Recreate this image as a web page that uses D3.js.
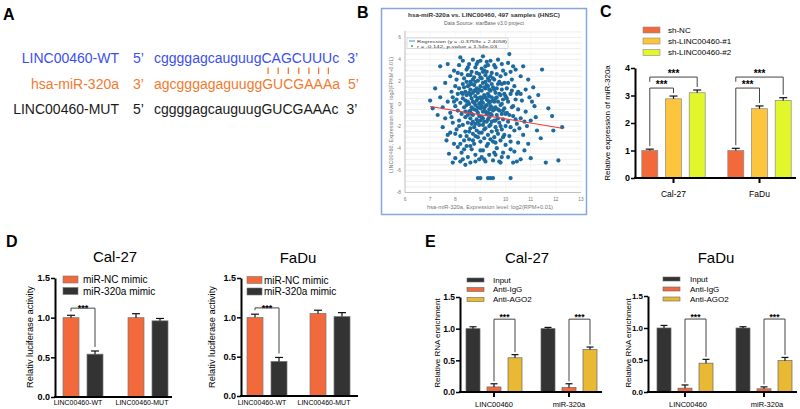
<!DOCTYPE html>
<html><head><meta charset="utf-8">
<script src="https://cdn.jsdelivr.net/npm/d3@7"></script>
<style>
body{margin:0;background:#fff}
svg{display:block}
text{font-family:"Liberation Sans",Arial,sans-serif}
</style>
</head><body>
<svg id="c" width="800" height="409"></svg>
<script>
// ---------------- DATA ----------------
// Panel A
const seqLabels = ["LINC00460-WT", "hsa-miR-320a", "LINC00460-MUT"];
const seqEnds5 = ["5’", "3’", "5’"];
const seqs = ["cggggagcauguugCAGCUUUc", "agcgggagaguuggGUCGAAAa", "cggggagcauguugGUCGAAAc"];
const seqEnds3 = ["3’", "5’", "3’"];
const pairStart = 14, pairCount = 7;

// Panel B (x = hsa-miR-320a log2(RPM+0.01), y = LINC00460 log2(FPKM+0.01)), read approx. from picture
const bTitle = "hsa-miR-320a vs. LINC00460, 497 samples (HNSC)";
const bSubtitle = "Data Source: starBase v3.0 project";
const bXLabel = "hsa-miR-320a, Expression level: log2(RPM+0.01)";
const bYLabel = "LINC00460, Expression level: log2(FPKM+0.01)";
const bLegend = ["Regression (y = -0.3759x + 2.4058)", "r = -0.142, p-value = 1.54e-03"];
const bSlope = -0.3759, bIntercept = 2.4058, bLineX = [7.0, 12.25];
const bXTicks = [6, 7, 8, 9, 10, 11, 12, 13];
const bYTicks = [-8, -6, -4, -2, 0, 2, 4, 6];
const bPoints = [
[7.0,0.3],[7.1,-0.4],[7.2,1.4],[7.3,-1.0],[7.4,3.4],[7.4,0.6],[7.5,-2.1],[7.5,-0.3],
[7.6,1.9],[7.6,-1.3],[7.7,0.2],[7.7,-2.8],[7.75,-4.5],[7.8,2.5],[7.8,-0.8],[7.8,-2.6],[7.85,1.1],[7.9,-5.3],[7.9,0.6],[7.9,-1.7],[7.95,3.0],[7.95,-3.6],[8.0,-0.2],[8.0,1.6],[8.0,-4.9],[7.65,-3.3],[7.7,3.6],[7.85,-1.2],
[8.05,2.2],[8.05,-2.3],[8.1,0.9],[8.1,-0.6],[8.1,-3.9],[8.15,3.5],[8.15,1.4],[8.15,-1.5],[8.2,-5.2],[8.2,0.1],[8.2,-2.9],[8.25,2.7],[8.25,-0.9],[8.25,-4.4],[8.3,1.8],[8.3,-1.9],[8.3,0.5],[8.3,3.9],[8.35,-3.3],[8.35,-0.3],[8.35,2.3],[8.4,1.1],[8.4,-2.5],[8.4,-5.5],[8.4,-1.2],[8.45,0.8],[8.45,3.1],[8.45,-3.8],[8.45,-0.1],[8.5,1.6],[8.5,-1.7],[8.5,-4.8],[8.5,2.6],[8.2,4.2],[8.35,-4.1],[8.05,0.4],[8.15,-2.0],[8.3,-5.0],[8.45,-2.9],[8.4,0.3],
[8.55,0.0],[8.55,-0.7],[8.55,3.6],[8.55,-3.2],[8.6,1.3],[8.6,2.0],[8.6,-1.3],[8.6,-2.2],[8.6,-5.3],[8.65,0.5],[8.65,-0.3],[8.65,2.9],[8.65,-4.1],[8.7,1.0],[8.7,-1.0],[8.7,-2.7],[8.7,4.0],[8.7,0.2],[8.75,1.7],[8.75,-0.5],[8.75,-3.6],[8.75,2.4],[8.8,-1.8],[8.8,0.7],[8.8,-0.1],[8.8,3.3],[8.8,-4.6],[8.85,1.4],[8.85,-1.4],[8.85,-2.4],[8.85,0.3],[8.9,2.1],[8.9,-0.8],[8.9,-6.7],[8.9,-3.0],[8.9,1.0],[8.95,-5.0],[8.95,0.0],[8.95,2.7],[8.95,-1.9],[9.0,-6.7],[9.0,0.6],[9.0,-0.4],[9.0,1.6],[9.0,-3.4],[9.0,3.9],[8.6,-0.6],[8.7,-1.6],[8.8,1.2],[8.9,-0.3],[8.65,1.8],[8.75,-2.1],[8.85,2.8],[8.95,-1.1],[8.55,1.0],
[9.05,1.2],[9.05,-1.2],[9.05,-2.6],[9.05,2.3],[9.1,0.1],[9.1,-0.7],[9.1,4.3],[9.1,-4.2],[9.1,1.9],[9.15,-1.6],[9.15,0.8],[9.15,3.0],[9.15,-3.1],[9.2,-0.2],[9.2,1.4],[9.2,-2.2],[9.2,-5.2],[9.2,2.6],[9.25,0.4],[9.25,-0.9],[9.25,-3.8],[9.25,1.7],[9.3,-6.7],[9.3,-1.4],[9.3,0.9],[9.3,3.5],[9.3,-2.8],[9.35,0.1],[9.35,-0.5],[9.35,2.1],[9.35,-4.6],[9.4,-6.7],[9.4,1.2],[9.4,-1.9],[9.4,-0.2],[9.4,3.9],[9.45,0.6],[9.45,-2.5],[9.45,-1.0],[9.45,2.8],[9.5,-6.7],[9.5,-0.6],[9.5,1.5],[9.5,-3.4],[9.5,-5.1],[9.05,0.4],[9.1,-1.9],[9.2,0.6],[9.25,-1.6],[9.3,0.3],[9.35,1.3],[9.4,-3.2],[9.45,-0.3],[9.15,-0.4],[9.2,3.4],[9.3,2.3],[9.05,-4.8],[9.4,0.2],[9.1,2.9],[9.35,-1.2],
[9.55,0.2],[9.55,2.2],[9.55,-1.5],[9.6,-2.1],[9.6,1.0],[9.6,-0.3],[9.6,3.3],[9.65,-4.0],[9.65,0.6],[9.65,-1.0],[9.7,1.8],[9.7,-2.7],[9.7,-0.5],[9.7,4.0],[9.75,-5.2],[9.75,0.9],[9.75,-1.7],[9.8,2.5],[9.8,-0.1],[9.8,-3.3],[9.8,-5.3],[9.85,1.3],[9.85,-0.9],[9.85,-2.3],[9.9,0.4],[9.9,3.0],[9.9,-1.4],[9.9,-4.4],[9.95,-0.4],[9.95,1.9],[10.0,-2.0],[10.0,0.7],[10.0,-3.7],[10.0,2.7],[9.55,-3.0],[9.65,2.7],[9.75,-0.6],[9.85,0.0],[9.95,-2.8],[9.6,-4.6],
[10.05,-0.8],[10.05,1.4],[10.1,3.7],[10.1,-1.6],[10.1,0.2],[10.15,4.5],[10.15,-2.9],[10.2,-6.7],[10.2,0.9],[10.2,-4.1],[10.25,-0.3],[10.25,2.2],[10.3,-1.1],[10.3,-5.3],[10.35,1.6],[10.35,-2.4],[10.4,0.4],[10.4,3.1],[10.45,-5.2],[10.45,-1.8],[10.5,-0.5],[10.5,1.1],[10.5,-3.5],[10.3,3.4],[10.1,-4.8],
[10.6,2.5],[10.6,-1.3],[10.65,0.3],[10.7,-2.8],[10.7,3.4],[10.75,-4.2],[10.8,1.3],[10.8,-0.7],[10.85,-2.0],[10.9,2.2],[10.9,-3.6],[10.95,0.6],[11.0,-1.5],[10.6,-5.0],[11.0,-4.9],
[11.1,1.5],[11.15,-0.2],[11.25,-2.4],[11.3,0.8],[11.4,-3.1],[11.45,3.1],[11.6,-5.3],[11.7,-0.4],[11.85,-1.1],[11.9,-2.4],[12.1,-5.1],[12.25,-2.1],
[8.3,0.9],[8.35,1.5],[8.4,-0.7],[8.45,2.0],[8.5,0.2],[8.5,-1.0],[8.55,1.7],[8.55,-2.5],[8.6,0.8],[8.6,2.6],[8.65,-1.8],[8.65,-0.9],[8.7,2.2],[8.7,-3.3],[8.75,0.1],[8.75,1.2],[8.8,-2.9],[8.8,2.0],[8.85,-0.6],[8.85,3.6],[8.9,0.5],[8.9,-1.6],[8.95,1.3],[8.95,-2.6],[9.0,0.1],[9.0,2.4],[9.0,-1.5],[9.05,-0.2],[9.05,3.2],[9.1,-1.3],[9.1,0.6],[9.15,1.5],[9.15,-2.3],[9.2,-0.7],[9.2,2.0],[9.25,-0.1],[9.25,2.9],[9.3,-0.8],[9.3,1.6],[9.35,-2.0],[9.35,0.7],[9.4,2.5],[9.4,-0.9],[9.45,1.8],[9.45,-1.6],[9.5,0.3],[9.5,2.3],[9.55,-0.5],[9.55,1.3],[9.6,-1.5],[9.6,0.5],[9.65,1.4],[9.65,-2.4],[9.7,0.2],[9.7,-1.3],[9.75,2.0],[9.8,0.8],[9.8,-2.0],[9.85,1.8],[9.9,-0.6],[9.95,0.9],[10.0,-0.9],[10.05,0.5],[10.1,1.9],[10.15,-1.0],[10.2,-2.1],[10.25,1.2],[10.3,-0.2],[10.4,-1.4],[10.45,0.9],
[8.2,-3.6],[8.6,-3.8],[9.0,-4.2],[9.3,-3.6],[9.6,-3.5],[9.9,-3.0],[10.2,-3.4],[8.8,-5.2],[9.15,-5.0],[9.55,-4.4],[9.85,-4.8],[10.35,-4.3],[8.5,3.3],[8.9,3.8],[9.25,3.8],[9.55,3.5],[9.85,3.6],[10.2,2.9],[8.1,2.8],[8.25,1.0],[7.95,0.2],[8.0,-2.7],[10.6,0.9],[10.75,-1.6],[10.55,-2.2],[11.2,-1.2],[11.05,0.2]
];

// Panel C
const cGroups = ["Cal-27", "FaDu"];
const cSeries = ["sh-NC", "sh-LINC00460-#1", "sh-LINC00460-#2"];
const cValues = [[1.0, 2.88, 3.10], [1.0, 2.52, 2.82]];
const cErrors = [[0.05, 0.10, 0.10], [0.08, 0.10, 0.10]];
const cYTicks = [0, 1, 2, 3, 4];

// Panel D
const dGroups = ["LINC00460-WT", "LINC00460-MUT"];
const dSeries = ["miR-NC mimic", "miR-320a mimic"];
const dCalValues = [[1.0, 0.54], [1.0, 0.96]];
const dCalErrors = [[0.03, 0.04], [0.05, 0.03]];
const dFaDuValues = [[1.0, 0.44], [1.05, 1.01]];
const dFaDuErrors = [[0.04, 0.05], [0.04, 0.05]];
const dYTicks = [0, 0.5, 1.0, 1.5];

// Panel E
const eGroups = ["LINC00460", "miR-320a"];
const eSeries = ["Input", "Anti-IgG", "Anti-AGO2"];
const eCalValues = [[1.0, 0.08, 0.54], [1.0, 0.07, 0.67]];
const eCalErrors = [[0.03, 0.05, 0.05], [0.02, 0.06, 0.04]];
const eFaDuValues = [[1.0, 0.06, 0.45], [1.0, 0.05, 0.49]];
const eFaDuErrors = [[0.04, 0.05, 0.06], [0.02, 0.03, 0.05]];
const eYTicks = [0, 0.5, 1.0, 1.5];

const sig = "***";

// ---------------- DRAW ----------------
const svg = d3.select("#c");
svg.append("rect").attr("width", 800).attr("height", 409).attr("fill", "#fff");

function panelLabel(t, x, y) {
  svg.append("text").attr("x", x).attr("y", y).attr("font-size", 16).attr("font-weight", "bold").attr("fill", "#000").text(t);
}
panelLabel("A", 3, 20);
panelLabel("B", 357, 18);
panelLabel("C", 600, 17);
panelLabel("D", 6, 247);
panelLabel("E", 425, 247);

// ---- Panel A ----
const aColors = ["#3b4ff0", "#f27a2e", "#1a1a1a"];
const aRows = [];
seqLabels.forEach((lab, i) => {
  const y = 63 + i * 25.5;
  const fs = 14;
  svg.append("text").attr("x", 119).attr("y", y).attr("text-anchor", "end").attr("font-size", fs).attr("fill", aColors[i]).text(lab);
  svg.append("text").attr("x", 133).attr("y", y).attr("font-size", fs).attr("fill", aColors[i]).text(seqEnds5[i]);
  const t = svg.append("text").attr("x", 154).attr("y", y).attr("font-size", fs).attr("fill", aColors[i]).text(seqs[i]);
  aRows.push(t);
  const w = t.node().getComputedTextLength();
  svg.append("text").attr("x", 154 + w + 8).attr("y", y).attr("font-size", fs).attr("fill", aColors[i]).text(seqEnds3[i]);
});
d3.range(pairStart, pairStart + pairCount).forEach(ci => {
  const e1 = aRows[0].node().getExtentOfChar(ci);
  const e2 = aRows[1].node().getExtentOfChar(ci);
  const cx = ((e1.x + e1.width / 2) + (e2.x + e2.width / 2)) / 2 + 1;
  svg.append("line").attr("x1", cx).attr("x2", cx).attr("y1", 67.5).attr("y2", 74)
    .attr("stroke", aColors[1]).attr("stroke-width", 1.3);
});

// ---- Panel B ----
(function () {
  const g = svg.append("g");
  const ff = "'DejaVu Sans', Verdana, sans-serif";
  g.append("rect").attr("x", 381.5).attr("y", 8.5).attr("width", 205).attr("height", 206)
    .attr("fill", "#fff").attr("stroke", "#86a8d8").attr("stroke-width", 1.5);
  const x = d3.scaleLinear().domain([6, 13]).range([405, 581]);
  const y = d3.scaleLinear().domain([-8, 6]).range([192.5, 37.5]);
  const yTopV = 6.6;
  g.append("text").attr("x", 484).attr("y", 17).attr("text-anchor", "middle").attr("font-family", ff)
    .attr("font-size", 6).attr("font-weight", "bold").attr("fill", "#333").attr("textLength", 152).attr("lengthAdjust", "spacingAndGlyphs").text(bTitle);
  g.append("text").attr("x", 484).attr("y", 25).attr("text-anchor", "middle").attr("font-family", ff)
    .attr("font-size", 4.6).attr("fill", "#666").attr("textLength", 80).attr("lengthAdjust", "spacingAndGlyphs").text(bSubtitle);
  // grid
  g.selectAll(".hg").data(d3.range(-8, 6.51, 0.5)).join("line")
    .attr("x1", x(6)).attr("x2", x(13)).attr("y1", d => y(d)).attr("y2", d => y(d))
    .attr("stroke", "#e2e2e2").attr("stroke-width", 0.6);
  g.selectAll(".vg").data(bXTicks).join("line")
    .attr("x1", d => x(d)).attr("x2", d => x(d)).attr("y1", y(yTopV)).attr("y2", y(-8))
    .attr("stroke", "#eeeeee").attr("stroke-width", 0.5);
  g.append("line").attr("x1", x(6)).attr("x2", x(6)).attr("y1", y(yTopV)).attr("y2", y(-8)).attr("stroke", "#aaa").attr("stroke-width", 0.7);
  g.append("line").attr("x1", x(6)).attr("x2", x(13)).attr("y1", y(-8)).attr("y2", y(-8)).attr("stroke", "#aaa").attr("stroke-width", 0.7);
  // ticks
  g.selectAll(".xt").data(bXTicks).join("text").attr("x", d => x(d)).attr("y", 200.5).attr("text-anchor", "middle")
    .attr("font-family", ff).attr("font-size", 4.8).attr("fill", "#777").text(d => d);
  g.selectAll(".yt").data(bYTicks).join("text").attr("x", 401).attr("y", d => y(d) + 1.7).attr("text-anchor", "end")
    .attr("font-family", ff).attr("font-size", 4.8).attr("fill", "#777").text(d => d);
  g.append("text").attr("x", 490).attr("y", 208.5).attr("text-anchor", "middle").attr("font-family", ff)
    .attr("font-size", 4.6).attr("fill", "#777").attr("textLength", 126).attr("lengthAdjust", "spacingAndGlyphs").text(bXLabel);
  g.append("text").attr("transform", "translate(392.5,115) rotate(-90)").attr("text-anchor", "middle").attr("font-family", ff)
    .attr("font-size", 4.6).attr("fill", "#777").attr("textLength", 116).attr("lengthAdjust", "spacingAndGlyphs").text(bYLabel);
  // points
  g.selectAll(".pt").data(bPoints).join("circle")
    .attr("cx", d => x(d[0])).attr("cy", d => y(d[1])).attr("r", 2.1).attr("fill", "#1d6a9e");
  // regression
  g.append("line").attr("x1", x(bLineX[0])).attr("x2", x(bLineX[1]))
    .attr("y1", y(bSlope * bLineX[0] + bIntercept)).attr("y2", y(bSlope * bLineX[1] + bIntercept))
    .attr("stroke", "#f23a3a").attr("stroke-width", 1.1);
  // legend
  g.append("rect").attr("x", 407).attr("y", 38).attr("width", 101).attr("height", 10.5)
    .attr("fill", "#fff").attr("stroke", "#bbb").attr("stroke-width", 0.5);
  g.append("line").attr("x1", 409).attr("x2", 415).attr("y1", 41).attr("y2", 41).attr("stroke", "#2a9de0").attr("stroke-width", 1);
  g.append("circle").attr("cx", 412).attr("cy", 46).attr("r", 1.1).attr("fill", "#3cb043");
  g.append("text").attr("x", 417).attr("y", 42.6).attr("font-family", ff).attr("font-size", 4.4).attr("fill", "#333")
    .attr("textLength", 90).attr("lengthAdjust", "spacingAndGlyphs").text(bLegend[0]);
  g.append("text").attr("x", 417).attr("y", 47.6).attr("font-family", ff).attr("font-size", 4.4).attr("fill", "#333")
    .attr("textLength", 80).attr("lengthAdjust", "spacingAndGlyphs").text(bLegend[1]);
})();

// ---- generic bar panel ----
function barPanel(o) {
  const g = svg.append("g");
  const step = o.centers[1] - o.centers[0];
  const xg = d3.scaleBand().domain(o.groups).range([o.centers[0] - step / 2, o.centers[1] + step / 2]);
  const n = o.series.length;
  const xs = d3.scaleBand().domain(o.series).range([-n * o.spacing / 2, n * o.spacing / 2]);
  const y = d3.scaleLinear().domain([0, o.yMax]).range([o.y0, o.yTop]);
  const gc = gi => xg(o.groups[gi]) + xg.bandwidth() / 2;
  const cx = (gi, si) => gc(gi) + xs(o.series[si]) + xs.bandwidth() / 2;
  const flat = o.groups.flatMap((gr, gi) => o.series.map((s, si) => ({ gi, si, v: o.values[gi][si], e: o.errors[gi][si] })));

  g.selectAll(".bar").data(flat).join("rect")
    .attr("x", d => cx(d.gi, d.si) - o.barW / 2).attr("y", d => y(d.v))
    .attr("width", o.barW).attr("height", d => y(0) - y(d.v))
    .attr("fill", d => o.colors[d.si]).attr("stroke", o.barStroke).attr("stroke-width", 0.7);
  g.selectAll(".es").data(flat).join("line")
    .attr("x1", d => cx(d.gi, d.si)).attr("x2", d => cx(d.gi, d.si))
    .attr("y1", d => y(d.v)).attr("y2", d => y(d.v + d.e)).attr("stroke", "#111").attr("stroke-width", 1.2);
  g.selectAll(".ec").data(flat).join("line")
    .attr("x1", d => cx(d.gi, d.si) - o.capW / 2).attr("x2", d => cx(d.gi, d.si) + o.capW / 2)
    .attr("y1", d => y(d.v + d.e)).attr("y2", d => y(d.v + d.e)).attr("stroke", "#111").attr("stroke-width", 1.2);

  // y axis
  const ax = g.append("g").attr("transform", `translate(${o.axisX},0)`)
    .call(d3.axisLeft(y).tickValues(o.yTicks).tickFormat(o.fmt).tickSize(4).tickSizeOuter(0));
  ax.select(".domain").attr("stroke-width", 2).attr("stroke", "#000");
  ax.selectAll(".tick line").attr("stroke-width", 1.5).attr("stroke", "#000");
  ax.selectAll(".tick text").attr("font-size", o.tickFont).attr("font-weight", "bold")
    .attr("font-family", "'Liberation Sans',Arial,sans-serif").attr("fill", "#000").attr("x", -5);
  // x axis line
  g.append("line").attr("x1", o.axisX - 1).attr("x2", o.xEnd).attr("y1", y(0)).attr("y2", y(0))
    .attr("stroke", "#000").attr("stroke-width", 2);
  if (o.groupTicks) {
    g.selectAll(".gt").data(o.groups).join("line")
      .attr("x1", (d, i) => gc(i)).attr("x2", (d, i) => gc(i)).attr("y1", y(0)).attr("y2", y(0) + 5)
      .attr("stroke", "#000").attr("stroke-width", 2);
  }
  g.selectAll(".cat").data(o.groups).join("text")
    .attr("x", (d, i) => gc(i) + o.catDx[i]).attr("y", o.catY).attr("text-anchor", "middle")
    .attr("font-size", o.catFont).attr("fill", "#000").text(d => d);

  // brackets
  (o.brackets || []).forEach(b => {
    const xa = cx(b.gi, b.a), xb = cx(b.gi, b.b), yl = y(b.level);
    const va = o.values[b.gi][b.a] + o.errors[b.gi][b.a];
    const vb = o.values[b.gi][b.b] + o.errors[b.gi][b.b];
    const ya = b.dropA != null ? y(b.dropA) : y(va) - o.gap;
    const yb = y(vb) - o.gap;
    g.append("path").attr("d", `M${xa},${ya}V${yl}H${xb}V${yb}`)
      .attr("fill", "none").attr("stroke", "#444").attr("stroke-width", 1);
    g.append("text").attr("x", (xa + xb) / 2).attr("y", yl + o.starDy).attr("text-anchor", "middle")
      .attr("font-size", o.starFont).attr("font-weight", "bold").attr("fill", "#000").text(sig);
  });

  // legend
  const L = o.legend;
  o.series.forEach((s, si) => {
    g.append("rect").attr("x", L.x).attr("y", L.ys[si] - L.h / 2).attr("width", L.w).attr("height", L.h)
      .attr("fill", o.colors[si]).attr("stroke", o.barStroke).attr("stroke-width", 0.6);
    g.append("text").attr("x", L.textX).attr("y", L.ys[si] + L.font * 0.36).attr("font-size", L.font).attr("fill", "#000").text(s);
  });

  if (o.title) {
    g.append("text").attr("x", o.title.x).attr("y", o.title.y).attr("text-anchor", "middle")
      .attr("font-size", 15).attr("fill", "#000").text(o.title.t);
  }
  g.append("text").attr("transform", `translate(${o.ylab.x},${o.ylab.y}) rotate(-90)`).attr("text-anchor", "middle")
    .attr("font-size", o.ylab.size).attr("fill", "#000").text(o.ylab.t);
}

// Panel C
barPanel({
  groups: cGroups, series: cSeries, values: cValues, errors: cErrors,
  centers: [673.5, 759.5], spacing: 23.7, barW: 16, capW: 8,
  axisX: 635, xEnd: 796, y0: 178, yTop: 68, yMax: 4, yTicks: cYTicks, fmt: d3.format("d"), tickFont: 9,
  colors: ["#f26a3b", "#fdc43d", "#e2f62c"], barStroke: "#8a8a8a",
  groupTicks: true, catFont: 8.5, catY: 196.5, catDx: [0, 0],
  legend: { x: 643, w: 17, h: 6, ys: [30, 41, 52.5], textX: 668, font: 8 },
  ylab: { t: "Relative expression of miR-320a", x: 610, y: 123, size: 8 },
  gap: 3, starFont: 10, starDy: -0.5,
  brackets: [
    { gi: 0, a: 0, b: 1, level: 3.27 }, { gi: 0, a: 0, b: 2, level: 3.67, dropA: 3.5 },
    { gi: 1, a: 0, b: 1, level: 3.27 }, { gi: 1, a: 0, b: 2, level: 3.67, dropA: 3.5 }
  ]
});

// Panel D - Cal-27
barPanel({
  groups: dGroups, series: dSeries, values: dCalValues, errors: dCalErrors,
  centers: [83, 148], spacing: 24, barW: 16, capW: 8,
  axisX: 55, xEnd: 172, y0: 397, yTop: 278, yMax: 1.5, yTicks: dYTicks, fmt: d3.format(".1f"), tickFont: 9,
  colors: ["#f26a3b", "#333333"], barStroke: "#777",
  groupTicks: false, catFont: 7, catY: 404.5, catDx: [-5, -6],
  legend: { x: 63, w: 15, h: 7, ys: [279.5, 291], textX: 83, font: 10 },
  title: { t: "Cal-27", x: 115, y: 262 },
  ylab: { t: "Relativ luciferase activity", x: 33, y: 337, size: 9.3 },
  gap: 4, starFont: 9, starDy: 3,
  brackets: [{ gi: 0, a: 0, b: 1, level: 1.12 }]
});

// Panel D - FaDu
barPanel({
  groups: dGroups, series: dSeries, values: dFaDuValues, errors: dFaDuErrors,
  centers: [267, 330], spacing: 24, barW: 16, capW: 8,
  axisX: 241, xEnd: 358, y0: 396, yTop: 278, yMax: 1.5, yTicks: dYTicks, fmt: d3.format(".1f"), tickFont: 9,
  colors: ["#f26a3b", "#333333"], barStroke: "#777",
  groupTicks: false, catFont: 7, catY: 404.5, catDx: [-5, -6],
  legend: { x: 247, w: 15, h: 7, ys: [280, 291.5], textX: 264, font: 10 },
  title: { t: "FaDu", x: 298, y: 263 },
  ylab: { t: "Relativ luciferase activity", x: 215, y: 337, size: 9.3 },
  gap: 4, starFont: 9, starDy: 3,
  brackets: [{ gi: 0, a: 0, b: 1, level: 1.12 }]
});

// Panel E - Cal-27
barPanel({
  groups: eGroups, series: eSeries, values: eCalValues, errors: eCalErrors,
  centers: [494, 569], spacing: 21, barW: 14, capW: 7,
  axisX: 460, xEnd: 602, y0: 392, yTop: 297, yMax: 1.5, yTicks: eYTicks, fmt: d3.format(".1f"), tickFont: 8.5,
  colors: ["#333333", "#f26a3b", "#e9b934"], barStroke: "#666",
  groupTicks: true, catFont: 7.5, catY: 407, catDx: [0, 0],
  legend: { x: 467, w: 17, h: 4, ys: [280, 289.5, 299.5], textX: 493, font: 8 },
  title: { t: "Cal-27", x: 527, y: 263 },
  ylab: { t: "Relative RNA enrichment", x: 440, y: 343, size: 8 },
  gap: 2.5, starFont: 8.5, starDy: 1,
  brackets: [{ gi: 0, a: 1, b: 2, level: 1.15 }, { gi: 1, a: 1, b: 2, level: 1.15 }]
});

// Panel E - FaDu
barPanel({
  groups: eGroups, series: eSeries, values: eFaDuValues, errors: eFaDuErrors,
  centers: [685, 764], spacing: 21, barW: 14, capW: 7,
  axisX: 648, xEnd: 797, y0: 392, yTop: 296, yMax: 1.5, yTicks: eYTicks, fmt: d3.format(".1f"), tickFont: 8,
  colors: ["#333333", "#f26a3b", "#e9b934"], barStroke: "#666",
  groupTicks: true, catFont: 7.5, catY: 407, catDx: [3, 3],
  legend: { x: 663, w: 17, h: 4, ys: [279, 289, 299], textX: 690, font: 8 },
  title: { t: "FaDu", x: 716, y: 263 },
  ylab: { t: "Relative RNA enrichment", x: 631, y: 343, size: 8 },
  gap: 2.5, starFont: 8.5, starDy: 1,
  brackets: [{ gi: 0, a: 1, b: 2, level: 1.14 }, { gi: 1, a: 1, b: 2, level: 1.14 }]
});
</script>
</body></html>
